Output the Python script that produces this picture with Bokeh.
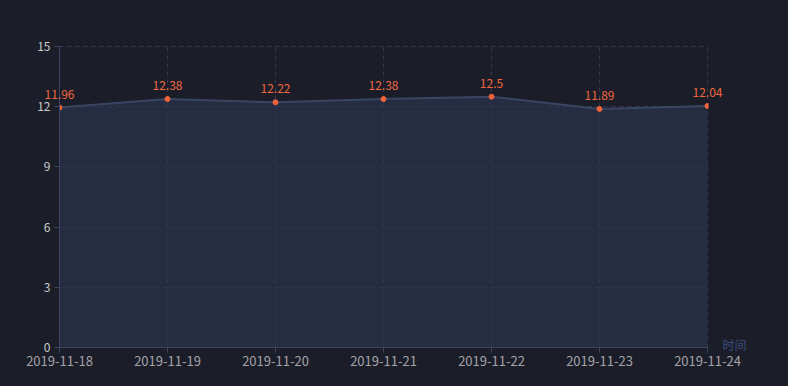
from bokeh.plotting import figure
from bokeh.models import ColumnDataSource, FixedTicker, Range1d
from bokeh.core.properties import value
from bokeh.embed import file_html
from bokeh.resources import INLINE

dates = ["2019-11-18", "2019-11-19", "2019-11-20", "2019-11-21", "2019-11-22", "2019-11-23", "2019-11-24"]
values = [11.96, 12.38, 12.22, 12.38, 12.5, 11.89, 12.04]
y_ticks = [0, 3, 6, 9, 12, 15]
axis_name = "时间"

BG = "#1b1e29"
FONT = "Noto Sans CJK SC"
GRID = "#363b4b"

idx = list(range(len(dates)))
n = len(dates) - 1
y_max = y_ticks[-1]
src = ColumnDataSource(dict(x=idx, y=values, lbl=[str(v) for v in values]))
name_src = ColumnDataSource(dict(x=[n], y=[0], t=[axis_name]))

# one extra pixel of frame at the top and right so that the edge grid lines are not clipped
x_pad = n / 648
y_pad = y_max / 301

p = figure(width=788, height=386, output_backend="svg", toolbar_location=None,
           x_range=Range1d(0, n + x_pad), y_range=Range1d(0, y_max + y_pad),
           min_border_left=59, min_border_right=80, min_border_top=45, min_border_bottom=39)
p.background_fill_color = BG
p.border_fill_color = BG
p.outline_line_color = None
p.styles = {"background-color": BG}

p.varea(x="x", y1=0, y2="y", source=src, fill_color="#2f3652", fill_alpha=0.6)
p.line(x="x", y="y", source=src, line_color="#3a4562", line_width=2)
p.scatter(x="x", y="y", source=src, size=5, fill_color="#f0623c", line_color="#f0623c")

p.text(x="x", y="y", text="lbl", source=src, text_align="center", text_baseline="bottom",
       y_offset=-9, text_color="#f0663e", text_font_size="12px", text_font=value(FONT),
       level="overlay")
p.text(x="x", y="y", text="t", source=name_src, text_align="left", text_baseline="middle",
       x_offset=15, y_offset=-3, text_color="#3d4c7c", text_font_size="12px",
       text_font=value(FONT), level="overlay")

p.xaxis.ticker = FixedTicker(ticks=idx)
p.xaxis.major_label_overrides = {i: d for i, d in enumerate(dates)}
p.xaxis.bounds = (0, n)
p.yaxis.ticker = FixedTicker(ticks=y_ticks)
p.yaxis.bounds = (0, y_max)

for ax in (p.xaxis, p.yaxis):
    ax.axis_line_color = "#3b4460"
    ax.major_tick_line_color = "#3b4460"
    ax.major_tick_out = 5
    ax.major_tick_in = 0
    ax.minor_tick_line_color = None
    ax.major_label_text_font = FONT
p.xaxis.major_label_text_font_size = "13px"
p.yaxis.major_label_text_font_size = "12px"
p.xaxis.major_label_text_color = "#a3a3a8"
p.yaxis.major_label_text_color = "#c9c9cc"
p.xaxis.major_label_standoff = 3
p.yaxis.major_label_standoff = 4

p.xgrid.ticker = FixedTicker(ticks=idx)
p.ygrid.ticker = FixedTicker(ticks=y_ticks)
for g in (p.xgrid, p.ygrid):
    g.grid_line_color = GRID
    g.grid_line_dash = "4 4"
    g.grid_line_width = 1

html = file_html(p, INLINE)
html = html.replace("<body>", '<body style="margin:0;background-color:%s">' % BG, 1)
open("out.html", "w").write(html)
